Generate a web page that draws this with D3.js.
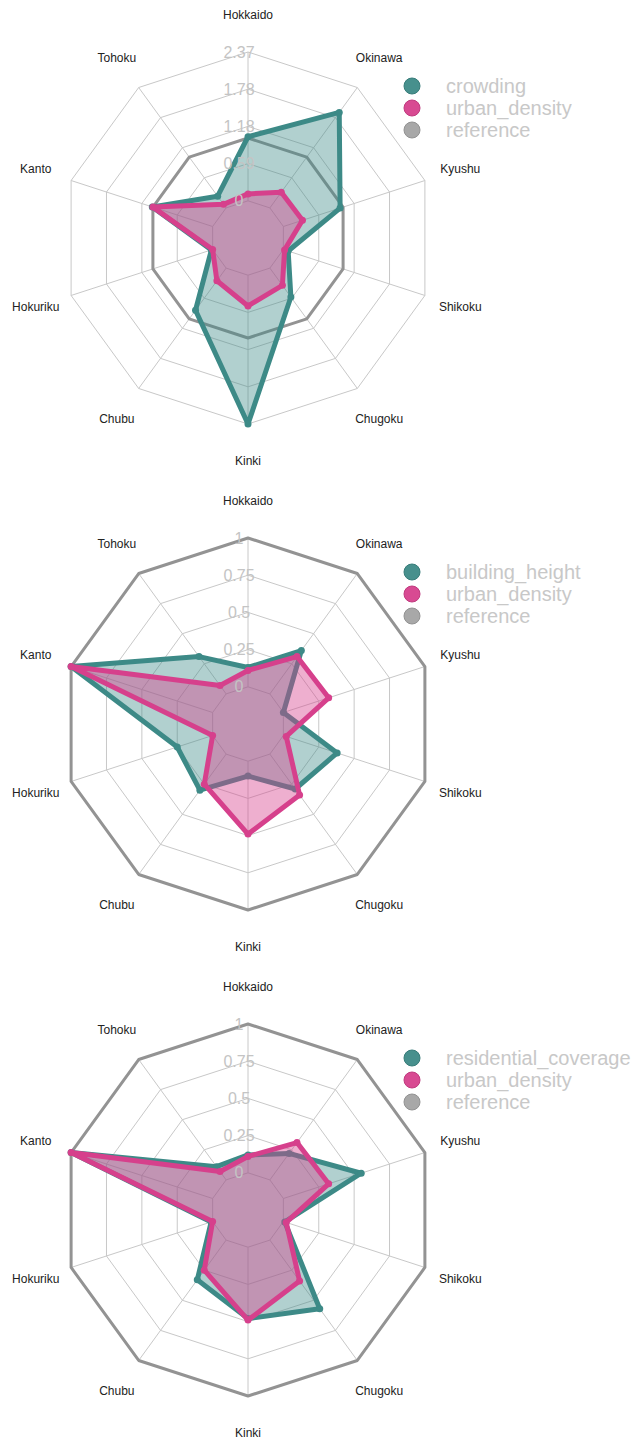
<!DOCTYPE html>
<html>
<head>
<meta charset="utf-8">
<script src="https://cdn.jsdelivr.net/npm/d3@7"></script>
<style>
  body { margin: 0; background: #fff; }
  svg { font-family: "Liberation Sans", Arial, Helvetica, sans-serif; }
</style>
</head>
<body>
<svg id="chart" width="635" height="1441"></svg>
<script>
// regions, clockwise from the top
const regions = ["Hokkaido", "Okinawa", "Kyushu", "Shikoku", "Chugoku", "Kinki", "Chubu", "Hokuriku", "Kanto", "Tohoku"];

const urbanDensity = [0.11, 0.31, 0.32, 0.02, 0.34, 0.49, 0.25, 0, 1, 0.07];
const crowding = [1.02, 1.88, 0.95, 0.08, 0.57, 2.37, 0.83, 0.02, 1.01, 0.23];
const buildingHeight = [0.13, 0.36, 0, 0.38, 0.29, 0.10, 0.30, 0.25, 1, 0.31];
const residentialCoverage = [0.12, 0.22, 0.55, 0.01, 0.57, 0.48, 0.33, 0.01, 1, 0.11];
const reference = [1, 1, 1, 1, 1, 1, 1, 1, 1, 1];

const ticks1 = ["0", "0.59", "1.18", "1.78", "2.37"];
const ticks2 = ["0", "0.25", "0.5", "0.75", "1"];
const ticks3 = ["0", "0.25", "0.5", "0.75", "1"];

const panels = [
  { name: "crowding", values: crowding, max: 2.37, ticks: ticks1 },
  { name: "building_height", values: buildingHeight, max: 1, ticks: ticks2 },
  { name: "residential_coverage", values: residentialCoverage, max: 1, ticks: ticks3 }
];

const teal = "#3d8a87", pink = "#d6408c", grey = "#939393";
const R = 186;
const svg = d3.select("#chart");
const angle = d3.scalePoint().domain(regions.concat("_end")).range([0, 2 * Math.PI]);

panels.forEach((p, pi) => {
  let cx = 248, cy = 238 + pi * 486;
  let g = svg.append("g").attr("transform", "translate(" + cx + "," + cy + ")");

  let r = d3.scaleLinear().domain([-p.max / 4, p.max]).range([0, R]);
  let line = d3.lineRadial()
    .angle((d, i) => angle(regions[i]))
    .radius(d => r(d))
    .curve(d3.curveLinearClosed);
  let pt = (v, i) => [Math.sin(angle(regions[i])) * r(v), -Math.cos(angle(regions[i])) * r(v)];

  // grid rings
  d3.range(1, 6).forEach(k => {
    let rr = R * k / 5;
    g.append("path")
      .attr("d", d3.lineRadial().angle((d, i) => angle(regions[i])).radius(rr).curve(d3.curveLinearClosed)(regions))
      .attr("fill", "none").attr("stroke", "#c8c8c8").attr("stroke-width", 1);
  });
  // spokes, from the inner ring outwards
  regions.forEach(reg => {
    let a = angle(reg);
    g.append("line")
      .attr("x1", Math.sin(a) * R / 5).attr("y1", -Math.cos(a) * R / 5)
      .attr("x2", Math.sin(a) * R).attr("y2", -Math.cos(a) * R)
      .attr("stroke", "#c8c8c8").attr("stroke-width", 1);
  });

  // axis labels
  regions.forEach(reg => {
    let a = angle(reg);
    g.append("text")
      .attr("x", Math.sin(a) * R * 1.2).attr("y", -Math.cos(a) * R * 1.2)
      .attr("text-anchor", "middle").attr("dy", "0.35em")
      .attr("font-size", 12).attr("fill", "#222")
      .text(reg);
  });

  let series = [
    { values: reference, color: grey, fill: "none", width: 3 },
    { values: p.values, color: teal, fill: teal, width: 5 },
    { values: urbanDensity, color: pink, fill: pink, width: 5 }
  ];
  series.forEach(s => {
    g.append("path")
      .attr("d", line(s.values))
      .attr("fill", s.fill)
      .attr("fill-opacity", s.fill === pink ? 0.42 : 0.4)
      .attr("stroke", s.color)
      .attr("stroke-width", s.width)
      .attr("stroke-linejoin", "round");
    if (s.width === 5) {
      g.selectAll(null).data(s.values).enter().append("circle")
        .attr("cx", (d, i) => pt(d, i)[0])
        .attr("cy", (d, i) => pt(d, i)[1])
        .attr("r", 3.5)
        .attr("fill", s.color);
    }
  });

  // tick labels on the top axis
  p.ticks.forEach((t, k) => {
    g.append("text")
      .attr("x", -9).attr("y", -R * (k + 1) / 5)
      .attr("dy", "0.35em").attr("text-anchor", "middle")
      .attr("font-size", 16).attr("fill", "#c4c4c4")
      .text(t);
  });

  // legend
  let legend = [
    { label: p.name, color: teal },
    { label: "urban_density", color: pink },
    { label: "reference", color: "#a3a3a3" }
  ];
  legend.forEach((l, k) => {
    let ly = -152 + k * 22;
    g.append("circle").attr("cx", 164).attr("cy", ly).attr("r", 8)
      .attr("fill", l.color).attr("fill-opacity", 0.95)
      .attr("stroke", d3.color(l.color).darker(0.3)).attr("stroke-width", 1);
    g.append("text").attr("x", 198).attr("y", ly).attr("dy", "0.35em")
      .attr("font-size", 20).attr("fill", "#c8c8c8")
      .text(l.label);
  });
});
</script>
</body>
</html>
